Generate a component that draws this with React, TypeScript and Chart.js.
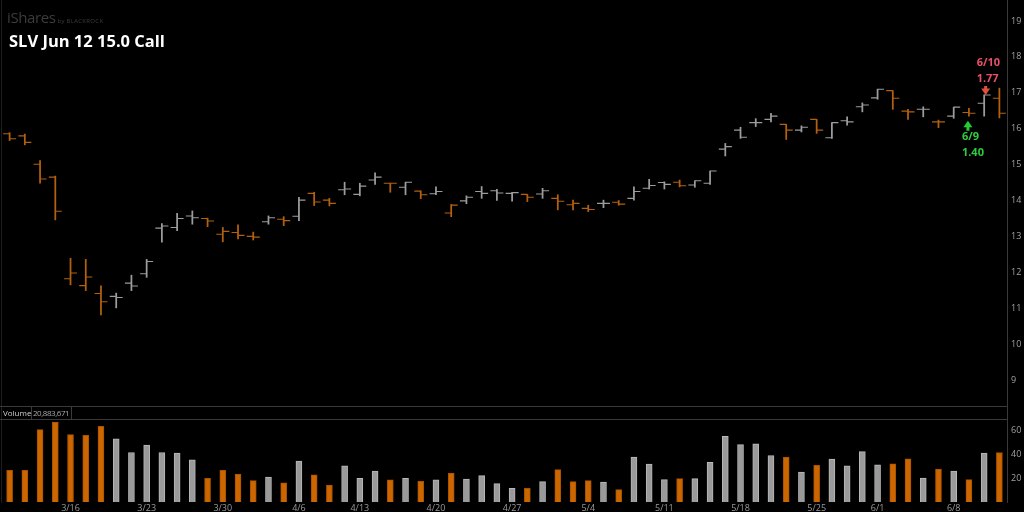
import React, { useEffect, useRef } from "react";
import { Chart, registerables } from "chart.js";

Chart.register(...registerables);

// ---------- data ----------
const dates = [
  "3/10", "3/11", "3/12", "3/13",
  "3/16", "3/17", "3/18", "3/19", "3/20",
  "3/23", "3/24", "3/25", "3/26", "3/27",
  "3/30", "3/31", "4/1", "4/2", "4/3",
  "4/6", "4/7", "4/8", "4/9",
  "4/13", "4/14", "4/15", "4/16", "4/17",
  "4/20", "4/21", "4/22", "4/23", "4/24",
  "4/27", "4/28", "4/29", "4/30", "5/1",
  "5/4", "5/5", "5/6", "5/7", "5/8",
  "5/11", "5/12", "5/13", "5/14", "5/15",
  "5/18", "5/19", "5/20", "5/21", "5/22",
  "5/25", "5/26", "5/27", "5/28",
  "6/1", "6/2", "6/3", "6/4", "6/5",
  "6/8", "6/9", "6/10", "6/11",
];

const tickDates = ["3/16", "3/23", "3/30", "4/6", "4/13", "4/20", "4/27", "5/4", "5/11", "5/18", "5/25", "6/1", "6/8"];

const opens = [
  15.86, 15.80, 15.01, 14.65, 11.82, 11.63, 11.41, 11.33, 11.70, 11.96,
  13.23, 13.25, 13.57, 13.50, 13.06, 13.11, 13.00, 13.41, 13.48, 13.56,
  14.20, 14.01, 14.30, 14.17, 14.57, 14.48, 14.37, 14.26, 14.19, 13.65,
  13.99, 14.25, 14.27, 14.20, 14.17, 14.18, 14.06, 13.88, 13.78, 13.92,
  13.95, 14.06, 14.34, 14.50, 14.51, 14.43, 14.48, 15.43, 15.96, 16.17,
  16.26, 16.12, 15.96, 16.26, 15.75, 16.22, 16.61, 16.86, 17.06, 16.49,
  16.54, 16.19, 16.35, 16.45, 16.71, 16.85,
];
const highs = [
  15.89, 15.85, 15.11, 14.68, 12.39, 12.36, 11.62, 11.42, 11.92, 12.36,
  13.36, 13.64, 13.71, 13.51, 13.25, 13.32, 13.12, 13.57, 13.55, 14.09,
  14.23, 14.06, 14.51, 14.48, 14.77, 14.48, 14.51, 14.27, 14.38, 13.89,
  14.13, 14.39, 14.31, 14.23, 14.17, 14.34, 14.16, 14.01, 13.87, 14.01,
  14.00, 14.38, 14.59, 14.52, 14.57, 14.55, 14.82, 15.59, 16.04, 16.28,
  16.43, 16.12, 16.08, 16.26, 16.17, 16.33, 16.72, 17.10, 17.06, 16.54,
  16.61, 16.24, 16.60, 16.57, 16.94, 17.13,
];
const lows = [
  15.67, 15.55, 14.48, 13.46, 11.65, 11.49, 10.81, 11.01, 11.49, 11.86,
  12.84, 13.16, 13.34, 13.27, 12.85, 12.93, 12.90, 13.34, 13.30, 13.44,
  13.86, 13.85, 14.16, 14.13, 14.45, 14.23, 14.16, 14.05, 14.16, 13.55,
  13.91, 14.06, 14.00, 13.98, 13.97, 14.06, 13.74, 13.74, 13.69, 13.80,
  13.87, 14.01, 14.32, 14.32, 14.38, 14.37, 14.45, 15.24, 15.73, 16.06,
  16.19, 15.70, 15.91, 15.87, 15.73, 16.10, 16.47, 16.82, 16.54, 16.26,
  16.33, 16.03, 16.29, 16.35, 16.35, 16.30,
];
const closes = [
  15.72, 15.62, 14.60, 13.70, 11.98, 11.87, 11.18, 11.30, 11.62, 12.30,
  13.29, 13.50, 13.52, 13.43, 13.14, 13.03, 12.98, 13.52, 13.44, 14.01,
  13.96, 13.92, 14.32, 14.40, 14.65, 14.48, 14.51, 14.16, 14.25, 13.87,
  14.09, 14.20, 14.21, 14.22, 14.09, 14.27, 13.98, 13.92, 13.75, 13.92,
  13.90, 14.25, 14.42, 14.45, 14.41, 14.55, 14.82, 15.50, 15.76, 16.17,
  16.35, 15.96, 16.04, 15.96, 16.17, 16.19, 16.66, 17.10, 16.85, 16.47,
  16.54, 16.19, 16.60, 16.43, 16.94, 16.43,
];
const volumes = [
  26.5, 26.5, 60.7, 67, 56.5, 56, 63.5, 53, 41.5, 47.7,
  41.5, 41, 35.4, 19.9, 26.5, 23.5, 17.9, 21, 16, 34.3,
  22.9, 14.3, 30.4, 19.9, 26, 18.5, 19.9, 17.4, 18.5, 24.3,
  19.3, 22.1, 15.4, 11.5, 11.5, 17.1, 27.1, 17.1, 17.9, 16.8,
  10.4, 37.6, 31.8, 18.8, 19.6, 19.6, 33.2, 55.2, 48.2, 48.8,
  39, 37.7, 25.2, 30.7, 36, 30.4, 42.3, 31.2, 32, 36.3,
  20.1, 27.6, 26, 18.8, 41, 41.5,
];

const priceTicks = [9, 10, 11, 12, 13, 14, 15, 16, 17, 18, 19];
const volumeTicks = [20, 40, 60];

const markerDates = ["6/9", "6/10"];
const markerPrices = ["1.40", "1.77"];
const markerKinds = ["buy", "sell"];

const titleText = "SLV Jun 12 15.0 Call";
const volumeLabel = "Volume";
const volumeTotal = "20,883,671";

// ---------- styles ----------
const ORANGE = "#b4600f";
const GRAY = "#9c9c9c";
const VOL_ORANGE = "#cc6600";
const VOL_GRAY = "#9a9a9a";
const AXIS_LINE = "#3a3a3a";
const FONT = "'Open Sans', 'Noto Sans', sans-serif";

const isUp = (i: number) => (i === 0 ? closes[0] >= opens[0] : closes[i] >= closes[i - 1]);

const zeroPad = (scale: any) => {
  scale.paddingTop = 0;
  scale.paddingBottom = 0;
  scale.paddingLeft = 0;
  scale.paddingRight = 0;
};

const ohlcPlugin = {
  id: "ohlcTicks",
  afterDatasetsDraw(chart: any) {
    const { ctx } = chart;
    const x = chart.scales.x;
    const y = chart.scales.y;
    ctx.save();
    ctx.lineWidth = 1.1;
    for (let i = 0; i < dates.length; i++) {
      const px = x.getPixelForValue(i);
      const yo = y.getPixelForValue(opens[i]);
      const yc = y.getPixelForValue(closes[i]);
      ctx.strokeStyle = isUp(i) ? GRAY : ORANGE;
      ctx.beginPath();
      ctx.moveTo(px - 6.5, yo);
      ctx.lineTo(px, yo);
      ctx.moveTo(px, yc);
      ctx.lineTo(px + 6.5, yc);
      ctx.stroke();
    }
    // trade markers
    ctx.font = `bold 11px ${FONT}`;
    ctx.textBaseline = "middle";
    ctx.textAlign = "left";
    for (let m = 0; m < markerDates.length; m++) {
      const i = dates.indexOf(markerDates[m]);
      if (i < 0) continue;
      const px = x.getPixelForValue(i);
      if (markerKinds[m] === "buy") {
        const tip = y.getPixelForValue(lows[i]) + 4.5;
        ctx.fillStyle = "#22cc33";
        ctx.beginPath();
        ctx.moveTo(px - 1, tip);
        ctx.lineTo(px + 3.5, tip + 6.5);
        ctx.lineTo(px + 0.5, tip + 6.5);
        ctx.lineTo(px + 0.5, tip + 10);
        ctx.lineTo(px - 2.5, tip + 10);
        ctx.lineTo(px - 2.5, tip + 6.5);
        ctx.lineTo(px - 5.5, tip + 6.5);
        ctx.closePath();
        ctx.fill();
        ctx.fillStyle = "#2ecc40";
        ctx.fillText(markerDates[m], px - 7, tip + 16);
        ctx.fillText(markerPrices[m], px - 7, tip + 32);
      } else {
        const tip = y.getPixelForValue(highs[i]);
        ctx.fillStyle = "#e0503a";
        ctx.beginPath();
        ctx.moveTo(px + 1.5, tip);
        ctx.lineTo(px + 6, tip - 6.5);
        ctx.lineTo(px + 3, tip - 6.5);
        ctx.lineTo(px + 3, tip - 9);
        ctx.lineTo(px, tip - 9);
        ctx.lineTo(px, tip - 6.5);
        ctx.lineTo(px - 3, tip - 6.5);
        ctx.closePath();
        ctx.fill();
        ctx.fillStyle = "#e8506a";
        ctx.fillText(markerPrices[m], px - 7.5, tip - 16);
        ctx.fillText(markerDates[m], px - 7.5, tip - 32);
      }
    }
    ctx.restore();
  },
};

export default function App() {
  const priceRef = useRef<HTMLCanvasElement | null>(null);
  const volRef = useRef<HTMLCanvasElement | null>(null);

  useEffect(() => {
    if (!priceRef.current || !volRef.current) return;
    const barColors = dates.map((_, i) => (isUp(i) ? GRAY : ORANGE));

    const price = new Chart(priceRef.current, {
      type: "bar",
      data: {
        labels: dates,
        datasets: [
          {
            data: lows.map((l, i) => [l, highs[i]]) as any,
            backgroundColor: barColors,
            borderWidth: 0,
            barThickness: 1.1,
          },
        ],
      },
      options: {
        responsive: false,
        animation: false,
        devicePixelRatio: 1,
        layout: { padding: { left: 2, right: 0, top: 0, bottom: 0 } },
        plugins: { legend: { display: false }, tooltip: { enabled: false } },
        scales: {
          x: { display: false, offset: true },
          y: {
            position: "right",
            min: 8.304,
            max: 19.585,
            grid: { display: false, drawTicks: false },
            border: { display: false },
            ticks: { color: "#a0a0a0", font: { size: 9, family: FONT }, padding: 4 },
            afterBuildTicks: (s: any) => {
              s.ticks = priceTicks.map((v) => ({ value: v }));
            },
            afterFit: (s: any) => {
              s.width = 17;
              zeroPad(s);
            },
          },
        },
      },
      plugins: [ohlcPlugin],
    } as any);

    const vol = new Chart(volRef.current, {
      type: "bar",
      data: {
        labels: dates,
        datasets: [
          {
            data: volumes,
            backgroundColor: dates.map((_, i) => (isUp(i) ? VOL_GRAY : VOL_ORANGE)),
            borderColor: dates.map((_, i) => (isUp(i) ? "#b8b8b8" : "#a85200")),
            borderWidth: 1,
            barThickness: 6,
          },
        ],
      },
      options: {
        responsive: false,
        animation: false,
        devicePixelRatio: 1,
        layout: { padding: { left: 2, right: 0, top: 0, bottom: 0 } },
        plugins: { legend: { display: false }, tooltip: { enabled: false } },
        scales: {
          x: {
            offset: true,
            grid: { display: false, drawTicks: false },
            border: { display: false },
            ticks: {
              autoSkip: false,
              maxRotation: 0,
              color: "#9a9a9a",
              font: { size: 9, family: FONT },
              padding: 1,
              callback: (_v: any, idx: number) => (tickDates.includes(dates[idx]) ? dates[idx] : ""),
            },
            afterFit: (s: any) => {
              s.height = 10;
              zeroPad(s);
            },
          },
          y: {
            position: "right",
            min: 0,
            max: 68.8,
            grid: { display: false, drawTicks: false },
            border: { display: false },
            ticks: { color: "#a0a0a0", font: { size: 9, family: FONT }, padding: 4 },
            afterBuildTicks: (s: any) => {
              s.ticks = volumeTicks.map((v) => ({ value: v }));
            },
            afterFit: (s: any) => {
              s.width = 17;
              zeroPad(s);
            },
          },
        },
      },
    } as any);

    return () => {
      price.destroy();
      vol.destroy();
    };
  }, []);

  const line = (style: React.CSSProperties) => (
    <div style={{ position: "absolute", background: AXIS_LINE, ...style }} />
  );

  return (
    <div
      style={{
        position: "fixed",
        left: 0,
        top: 0,
        width: 1024,
        height: 512,
        background: "#000",
        overflow: "hidden",
        fontFamily: FONT,
      }}
    >
      <canvas ref={priceRef} width={1024} height={405} style={{ position: "absolute", left: 0, top: 0, display: "block" }} />
      <canvas ref={volRef} width={1024} height={92} style={{ position: "absolute", left: 0, top: 420, display: "block" }} />

      {/* watermark */}
      <div style={{ position: "absolute", left: 7, top: 7, color: "#3c3c3c", whiteSpace: "nowrap", lineHeight: "20px" }}>
        <span style={{ fontSize: 15, letterSpacing: -0.4 }}>iShares</span>
        <span style={{ fontSize: 6, marginLeft: 2, letterSpacing: 0.3 }}>by BLACKROCK</span>
      </div>
      {/* title */}
      <div
        style={{
          position: "absolute",
          left: 9,
          top: 30,
          color: "#fff",
          fontWeight: 700,
          fontSize: 16.5,
          lineHeight: "22px",
          whiteSpace: "nowrap",
        }}
      >
        {titleText}
      </div>

      {/* panel frame */}
      {line({ left: 1, top: 0, width: 1, height: 503, background: "#1e1e1e" })}
      {line({ left: 1007, top: 0, width: 1, height: 503 })}
      {line({ left: 0, top: 406, width: 1008, height: 1 })}
      {line({ left: 0, top: 419, width: 1008, height: 1 })}
      {line({ left: 31, top: 406, width: 1, height: 13 })}
      {line({ left: 71, top: 406, width: 1, height: 13 })}

      <div style={{ position: "absolute", left: 3, top: 407, fontSize: 8, lineHeight: "12px", color: "#d0d0d0" }}>
        {volumeLabel}
      </div>
      <div
        style={{
          position: "absolute",
          left: 33,
          top: 407,
          fontSize: 8,
          lineHeight: "12px",
          color: "#a8a8a8",
          letterSpacing: -0.45,
          whiteSpace: "nowrap",
        }}
      >
        {volumeTotal}
      </div>
    </div>
  );
}
